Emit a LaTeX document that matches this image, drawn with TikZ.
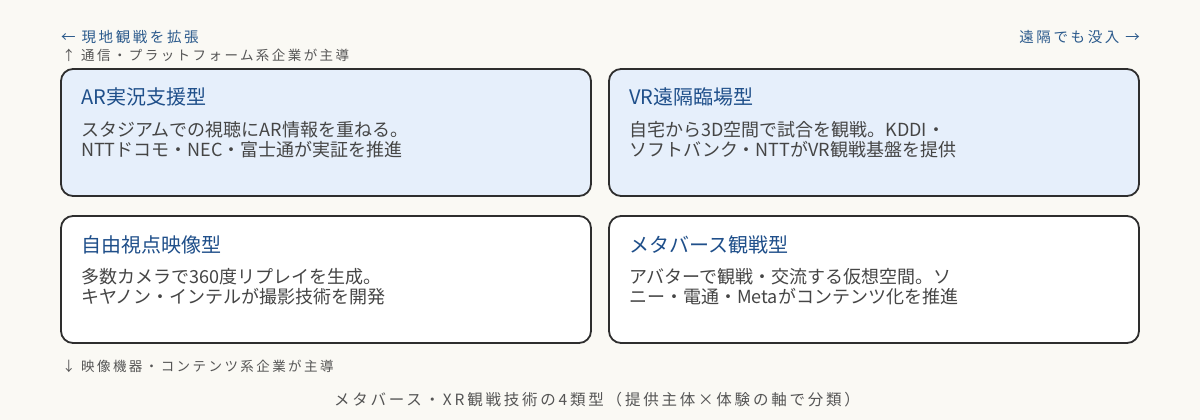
\documentclass[tikz,border=0pt]{standalone}
\usepackage{fontspec}
\setmainfont{Noto Sans CJK JP}
\newfontfamily\notefont[LetterSpace=18]{Noto Sans CJK JP}
\usepackage{tikz}
\usetikzlibrary{positioning}
\definecolor{paper}{HTML}{FAF9F4}
\definecolor{boxblue}{HTML}{E6EFFB}
\definecolor{edge}{HTML}{2E2E2E}
\definecolor{titleblue}{HTML}{1F4F8A}
\definecolor{bodygray}{HTML}{454545}
\definecolor{noteblue}{HTML}{2B5A8C}
\definecolor{notegray}{HTML}{555555}

\begin{document}
\begin{tikzpicture}[x=1pt,y=-1pt,
    quad/.style={shape=rectangle,draw=edge,line width=1.8pt,rounded corners=12pt,
        minimum width=530pt,minimum height=127pt,inner sep=0pt},
    title/.style={anchor=base west,inner sep=0pt,text=titleblue,font=\fontsize{20}{24}\selectfont},
    body/.style={anchor=base west,inner sep=0pt,text=bodygray,font=\fontsize{18}{21}\selectfont},
    note/.style={anchor=base west,inner sep=0pt,text=notegray,font=\notefont\fontsize{13.5}{16}\selectfont}]
    \path[use as bounding box,fill=paper] (0,0) rectangle (1200,420);

    \node[quad,fill=boxblue] (arBox) at (326,132.5) {};
    \node[quad,fill=boxblue] (vrBox) at (874,132.5) {};
    \node[quad,fill=white] (fvBox) at (326,279.5) {};
    \node[quad,fill=white] (mvBox) at (874,279.5) {};

    \node[title] (arTitle) at (81,105) {AR実況支援型};
    \node[body] (arBodyA) at (81,136) {スタジアムでの視聴にAR情報を重ねる。};
    \node[body] (arBodyB) at (81,156) {NTTドコモ・NEC・富士通が実証を推進};

    \node[title] (vrTitle) at (629,105) {VR遠隔臨場型};
    \node[body] (vrBodyA) at (629,136) {自宅から3D空間で試合を観戦。KDDI・};
    \node[body] (vrBodyB) at (629,156) {ソフトバンク・NTTがVR観戦基盤を提供};

    \node[title] (fvTitle) at (81,252) {自由視点映像型};
    \node[body] (fvBodyA) at (81,283) {多数カメラで360度リプレイを生成。};
    \node[body] (fvBodyB) at (81,303) {キヤノン・インテルが撮影技術を開発};

    \node[title] (mvTitle) at (629,252) {メタバース観戦型};
    \node[body] (mvBodyA) at (629,283) {アバターで観戦・交流する仮想空間。ソ};
    \node[body] (mvBodyB) at (629,303) {ニー・電通・Metaがコンテンツ化を推進};

    % axis notes
    \node[note,text=noteblue,font=\notefont\fontsize{14.5}{17}\selectfont] (localNote) at (61,43) {← 現地観戦を拡張};
    \node[note,text=noteblue,font=\notefont\fontsize{14.5}{17}\selectfont,anchor=base east] (remoteNote) at (1140,43) {遠隔でも没入 →};
    \node[note] (telecomNote) at (62,61) {↑ 通信・プラットフォーム系企業が主導};
    \node[note] (mediaNote) at (62,371) {↓ 映像機器・コンテンツ系企業が主導};

    \node[note,anchor=base,font=\notefont\fontsize{15.5}{18}\selectfont] (caption) at (597,405) {メタバース・XR観戦技術の4類型（提供主体×体験の軸で分類）};
\end{tikzpicture}
\end{document}
